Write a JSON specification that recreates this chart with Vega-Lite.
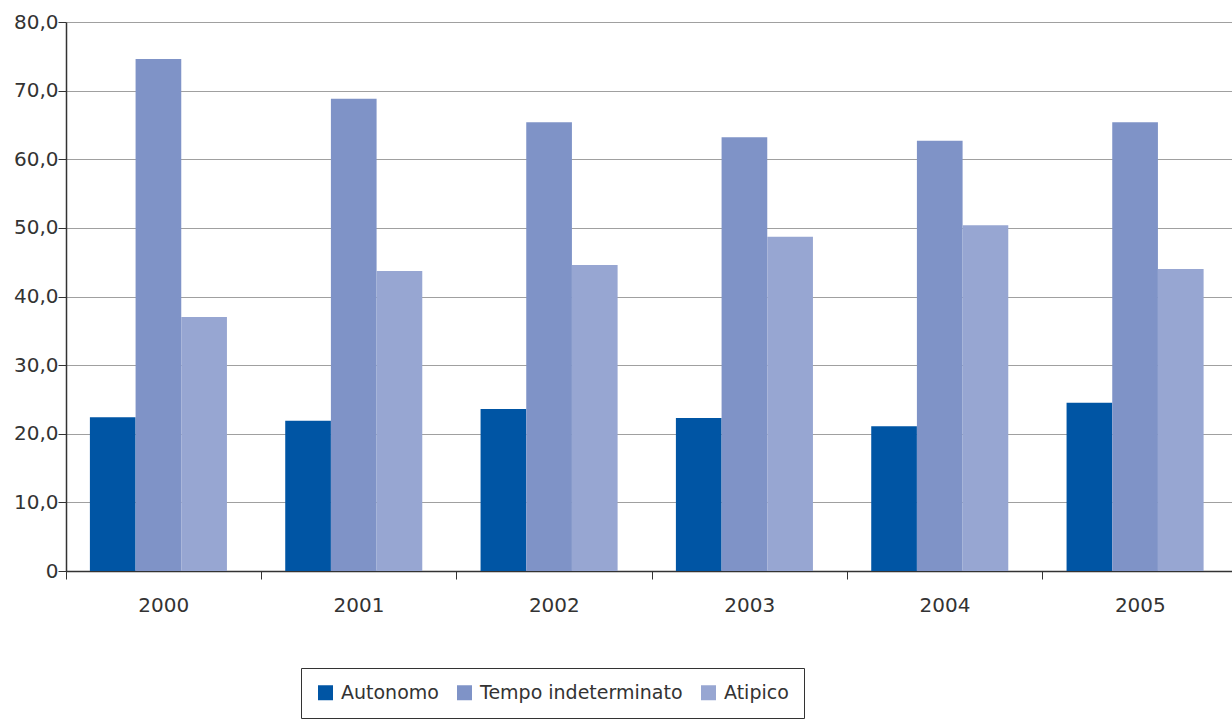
{
  "$schema": "https://vega.github.io/schema/vega-lite/v6.json",
  "width": 1172,
  "height": 549,
  "autosize": "none",
  "padding": {"left": 66, "top": 22, "right": 0, "bottom": 154},
  "background": "white",
  "config": {
    "view": {"stroke": null},
    "font": "DejaVu Sans"
  },
  "data": {
    "values": [
      {"anno": "2000", "serie": "Autonomo", "valore": 22.4},
      {"anno": "2000", "serie": "Tempo indeterminato", "valore": 74.6},
      {"anno": "2000", "serie": "Atipico", "valore": 37.0},
      {"anno": "2001", "serie": "Autonomo", "valore": 21.9},
      {"anno": "2001", "serie": "Tempo indeterminato", "valore": 68.8},
      {"anno": "2001", "serie": "Atipico", "valore": 43.7},
      {"anno": "2002", "serie": "Autonomo", "valore": 23.6},
      {"anno": "2002", "serie": "Tempo indeterminato", "valore": 65.4},
      {"anno": "2002", "serie": "Atipico", "valore": 44.6},
      {"anno": "2003", "serie": "Autonomo", "valore": 22.3},
      {"anno": "2003", "serie": "Tempo indeterminato", "valore": 63.2},
      {"anno": "2003", "serie": "Atipico", "valore": 48.7},
      {"anno": "2004", "serie": "Autonomo", "valore": 21.1},
      {"anno": "2004", "serie": "Tempo indeterminato", "valore": 62.7},
      {"anno": "2004", "serie": "Atipico", "valore": 50.4},
      {"anno": "2005", "serie": "Autonomo", "valore": 24.5},
      {"anno": "2005", "serie": "Tempo indeterminato", "valore": 65.4},
      {"anno": "2005", "serie": "Atipico", "valore": 44.0}
    ]
  },
  "mark": {"type": "bar"},
  "encoding": {
    "x": {
      "field": "anno",
      "type": "nominal",
      "scale": {"paddingInner": 0, "paddingOuter": 0},
      "axis": {
        "title": null,
        "labelAngle": 0,
        "labelFontSize": 20,
        "labelColor": "#333333",
        "labelPadding": 16,
        "bandPosition": 0,
        "tickSize": 8,
        "tickColor": "#333333",
        "domainColor": "#333333",
        "domainWidth": 1.5,
        "grid": false
      }
    },
    "xOffset": {
      "field": "serie",
      "type": "nominal",
      "sort": ["Autonomo", "Tempo indeterminato", "Atipico"],
      "scale": {"paddingInner": 0, "paddingOuter": 0.638, "align": 0.41}
    },
    "y": {
      "field": "valore",
      "type": "quantitative",
      "scale": {"domain": [0, 80], "nice": false},
      "axis": {
        "title": null,
        "values": [0, 10, 20, 30, 40, 50, 60, 70, 80],
        "labelExpr": "datum.value == 0 ? '0' : replace(format(datum.value, '.1f'), '.', ',')",
        "labelFontSize": 20,
        "labelColor": "#333333",
        "labelPadding": 0,
        "tickSize": 8,
        "tickColor": "#333333",
        "domainColor": "#333333",
        "domainWidth": 1.5,
        "gridColor": "#a0a0a0",
        "gridWidth": 1
      }
    },
    "color": {
      "field": "serie",
      "type": "nominal",
      "sort": ["Autonomo", "Tempo indeterminato", "Atipico"],
      "scale": {
        "domain": ["Autonomo", "Tempo indeterminato", "Atipico"],
        "range": ["#0055a4", "#7f93c7", "#97a6d2"]
      },
      "legend": {
        "title": null,
        "orient": "none",
        "legendX": 235,
        "legendY": 646,
        "direction": "horizontal",
        "symbolType": "square",
        "symbolSize": 225,
        "symbolStrokeWidth": 0,
        "labelFontSize": 19,
        "labelColor": "#333333",
        "labelOffset": 6,
        "columnPadding": 16,
        "padding": 15,
        "strokeColor": "#333333",
        "labelLimit": 400
      }
    }
  }
}
